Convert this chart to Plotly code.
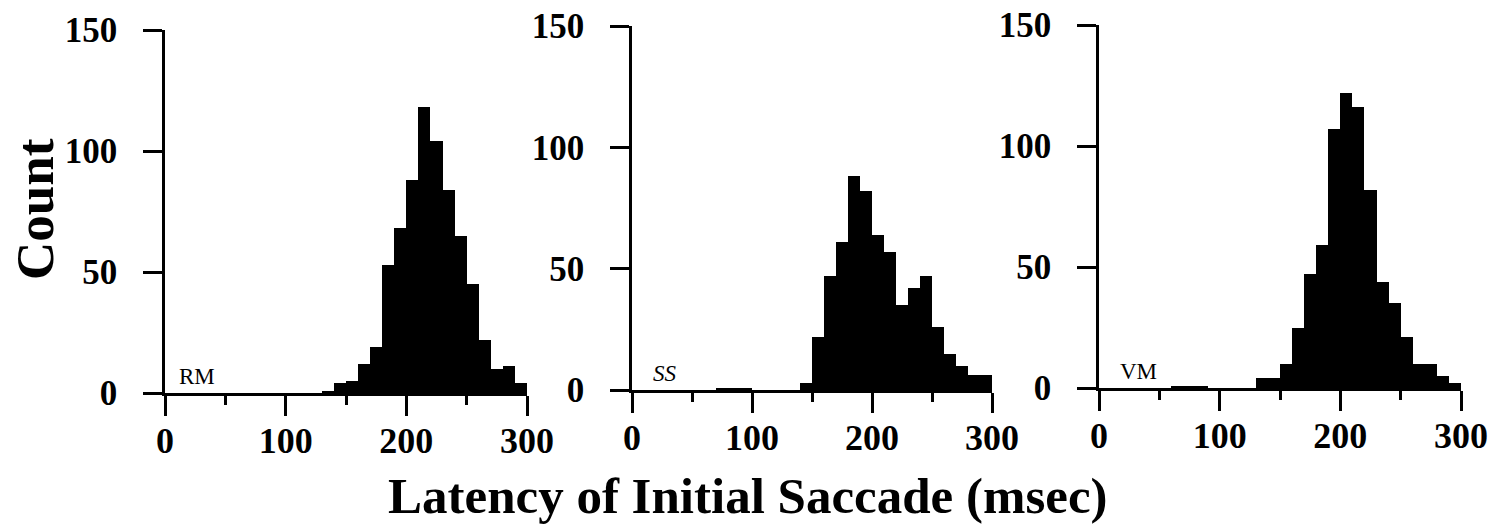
import plotly.graph_objects as go

# Latency histograms, 10-msec bins starting at each value below
bin_start = list(range(0, 300, 10))

rm_counts = [0, 0, 0, 0, 0, 0, 0, 0, 0, 0,
             0, 0, 0, 1, 4, 5, 12, 19, 53, 68,
             88, 118, 104, 84, 65, 45, 22, 10, 11, 4]
ss_counts = [0, 0, 0, 0, 0, 0, 0, 1, 1, 1,
             0, 0, 0, 0, 3, 22, 47, 61, 88, 82,
             64, 57, 35, 42, 47, 26, 15, 10, 6, 6]
vm_counts = [0, 0, 0, 0, 0, 0, 1, 1, 1, 0,
             0, 0, 0, 4, 4, 10, 25, 47, 59, 107,
             122, 116, 82, 44, 35, 21, 10, 10, 5, 2]

panel_names = ["RM", "SS", "VM"]
panel_counts = [rm_counts, ss_counts, vm_counts]

x_ticks = [0, 100, 200, 300]
y_ticks = [0, 50, 100, 150]

W, H = 1490, 524
SERIF = "Liberation Serif"

# pixel placement of each panel: (x0, x300, y0, y150)
panel_px = [(165, 527, 393, 30), (632, 992, 390, 26), (1099, 1461, 388, 25)]

fig = go.Figure()
layout = dict(
    width=W, height=H, autosize=False,
    margin=dict(l=0, r=0, t=0, b=0, pad=0, autoexpand=False),
    paper_bgcolor="white", plot_bgcolor="white",
    showlegend=False, bargap=0,
    annotations=[],
)

for i, (name, counts) in enumerate(zip(panel_names, panel_counts)):
    sfx = "" if i == 0 else str(i + 1)
    fig.add_trace(go.Bar(
        x=bin_start, y=counts, width=10, offset=0,
        marker=dict(color="black", line=dict(width=0)),
        xaxis="x" + sfx, yaxis="y" + sfx,
        hoverinfo="skip",
    ))
    x0, x1, y0, y1 = panel_px[i]
    layout["xaxis" + sfx] = dict(
        domain=[x0 / W, x1 / W], anchor="y" + sfx, range=[0, 300],
        automargin=False,
        tickvals=x_ticks, ticks="outside", ticklen=20, tickwidth=3,
        tickcolor="black", showline=True, linecolor="black", linewidth=2.5,
        showgrid=False, zeroline=False, ticklabelstandoff=-6,
        tickfont=dict(family=SERIF, size=36, color="black", weight="bold"),
        minor=dict(dtick=50, tick0=0, ticks="outside", ticklen=9,
                   tickwidth=3, tickcolor="black", showgrid=False),
    )
    layout["yaxis" + sfx] = dict(
        domain=[1 - y0 / H, 1 - y1 / H], anchor="x" + sfx, range=[0, 150],
        automargin=False,
        tickvals=y_ticks, ticks="outside", ticklen=19, tickwidth=3,
        tickcolor="black", showline=True, linecolor="black", linewidth=2.5,
        showgrid=False, zeroline=False, ticklabelstandoff=19,
        tickfont=dict(family=SERIF, size=35, color="black", weight="bold"),
    )
    layout["annotations"].append(dict(
        x=10 if i == 0 else 16, y=1, xref="x" + sfx, yref="y" + sfx,
        xanchor="left", yanchor="bottom", showarrow=False, text=name,
        font=dict(family=SERIF, size=23, color="black",
                  style="italic" if name == "SS" else "normal"),
    ))

layout["annotations"].append(dict(
    x=35 / W, y=1 - 209 / H, xref="paper", yref="paper", textangle=-90,
    xanchor="center", yanchor="middle",
    showarrow=False, text="Count",
    font=dict(family=SERIF, size=53, color="black", weight="bold"),
))
layout["annotations"].append(dict(
    x=748 / W, y=1 - 496 / H, xref="paper", yref="paper",
    xanchor="center", yanchor="middle",
    showarrow=False, text="Latency of Initial Saccade (msec)",
    font=dict(family=SERIF, size=51, color="black", weight="bold"),
))

fig.update_layout(**layout)
fig.write_html("out.html")
